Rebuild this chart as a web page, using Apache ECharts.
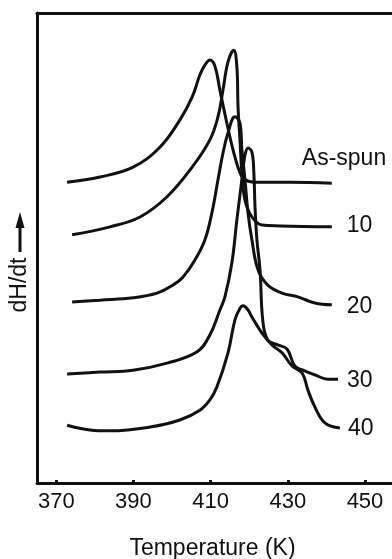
<!DOCTYPE html>
<html>
<head>
<meta charset="utf-8">
<title>dH/dt vs Temperature</title>
<script src="https://cdn.jsdelivr.net/npm/echarts@6/dist/echarts.min.js"></script>
<style>
  html, body { margin: 0; padding: 0; background: #fff; }
  #chart { width: 392px; height: 559px; }
</style>
</head>
<body>
<div id="chart"></div>
<script>
// temperature ticks (K)
const tempTicks = [370, 390, 410, 430, 450];

// dH/dt traces, [temperature K, arbitrary units]; each curve offset vertically
const asSpun = [[372.8, 64.0], [381.3, 65.1], [389.9, 67.2], [396.9, 71.5], [402.0, 77.2], [405.2, 82.1],
  [407.2, 86.8], [408.5, 88.9], [409.8, 90.0], [411.1, 88.7], [412.4, 83.6], [414.2, 76.6], [415.8, 70.9],
  [417.6, 66.0], [418.9, 64.5], [421.5, 64.0], [430.5, 64.0], [441.4, 63.8]];
const aged10 = [[374.1, 52.8], [383.9, 54.5], [391.7, 56.6], [398.7, 60.9], [405.2, 67.2], [409.8, 73.0],
  [411.9, 77.9], [413.2, 83.6], [414.5, 89.6], [416.0, 92.1], [416.8, 88.5], [417.1, 80.0], [417.6, 73.0],
  [418.1, 66.0], [418.9, 60.2], [420.7, 56.6], [423.3, 54.9], [428.0, 54.7], [441.4, 54.5]];
const aged20 = [[374.1, 38.5], [381.3, 38.9], [389.9, 39.4], [396.1, 40.4], [400.2, 42.1], [402.8, 43.8],
  [405.9, 47.4], [408.5, 51.7], [410.3, 57.4], [411.9, 64.5], [413.2, 70.2], [414.5, 74.5], [416.3, 77.9],
  [417.6, 76.6], [418.1, 70.9], [418.9, 64.5], [419.7, 57.4], [420.7, 51.7], [422.3, 45.3], [424.8, 42.1],
  [428.5, 40.4], [432.6, 39.6], [437.0, 38.3], [441.4, 37.9]];
const aged30 = [[372.8, 23.2], [381.3, 23.6], [389.9, 24.0], [398.7, 25.5], [406.5, 27.9], [409.8, 31.5],
  [412.4, 36.8], [413.7, 39.6], [415.5, 46.8], [416.8, 56.0], [417.6, 61.3], [418.4, 66.6], [418.9, 69.8],
  [419.7, 71.3], [420.7, 70.4], [421.2, 66.0], [421.5, 58.7], [422.0, 51.7], [422.8, 45.3], [423.5, 34.7],
  [424.8, 30.4], [427.4, 29.4], [429.8, 28.5], [431.8, 24.9], [433.9, 24.0], [437.0, 23.0], [440.4, 22.1],
  [443.0, 22.1]];
const aged40 = [[372.8, 12.3], [378.7, 11.3], [383.9, 11.1], [394.3, 11.9], [402.0, 13.4], [407.2, 15.5],
  [409.8, 17.7], [411.6, 20.4], [414.5, 27.7], [416.3, 34.7], [417.6, 37.2], [418.4, 37.7], [419.7, 36.8],
  [420.7, 35.3], [423.3, 31.9], [425.9, 29.4], [428.5, 27.7], [431.1, 24.9], [433.7, 23.4], [435.2, 19.8],
  [437.0, 16.2], [439.6, 12.8], [443.5, 11.7]];

const seriesNames = ["As-spun", "10", "20", "30", "40"];
const seriesData = [asSpun, aged10, aged20, aged30, aged40];
// where each curve's end label sits relative to the curve end
const labelOffsets = [[-30, -24], [15, -1], [15, 2], [9, 2], [8, 1]];

const font = "Liberation Sans, Arial, Helvetica, sans-serif";
const ink = "#111";

const chart = echarts.init(document.getElementById("chart"));

chart.setOption({
  backgroundColor: "#fff",
  animation: false,
  grid: { left: 37, right: 0, top: 13, bottom: 76, outerBoundsMode: "none" },
  xAxis: [
    {
      type: "value",
      min: 365,
      max: 457,
      name: "Temperature (K)",
      nameLocation: "middle",
      nameGap: 54,
      nameTextStyle: { color: ink, fontSize: 23, fontFamily: font, padding: [0, 4, 0, 0] },
      axisLine: { show: true, lineStyle: { color: ink, width: 3 } },
      axisTick: { show: true, inside: true, length: 3, customValues: tempTicks,
        lineStyle: { color: ink, width: 3 } },
      axisLabel: { customValues: tempTicks, margin: 8, color: ink, fontSize: 22, fontFamily: font },
      splitLine: { show: false },
    },
    {
      // top frame line
      type: "value",
      position: "top",
      min: 365,
      max: 457,
      axisLine: { show: true, lineStyle: { color: ink, width: 3 } },
      axisTick: { show: false },
      axisLabel: { show: false },
      splitLine: { show: false },
    },
  ],
  yAxis: {
    type: "value",
    min: 0,
    max: 100,
    axisLine: { show: true, lineStyle: { color: ink, width: 3 } },
    axisTick: { show: false },
    axisLabel: { show: false },
    splitLine: { show: false },
  },
  graphic: [
    {
      type: "text",
      x: 20,
      y: 285,
      rotation: Math.PI / 2,
      style: { text: "dH/dt", fill: ink, font: "23px " + font, textAlign: "center", textVerticalAlign: "middle" },
    },
    {
      type: "line",
      shape: { x1: 20, y1: 252, x2: 20, y2: 226 },
      style: { stroke: ink, lineWidth: 3 },
    },
    {
      type: "polygon",
      shape: { points: [[20, 212], [15.5, 228], [24.5, 228]] },
      style: { fill: ink },
    },
  ],
  series: seriesNames.map((name, i) => ({
    name: name,
    type: "line",
    data: seriesData[i],
    smooth: 0.4,
    showSymbol: false,
    lineStyle: { color: ink, width: 3 },
    endLabel: {
      show: true,
      formatter: "{a}",
      distance: 0,
      offset: labelOffsets[i],
      align: "left",
      verticalAlign: "middle",
      color: ink,
      fontSize: 23,
      fontFamily: font,
    },
  })),
});
</script>
</body>
</html>
